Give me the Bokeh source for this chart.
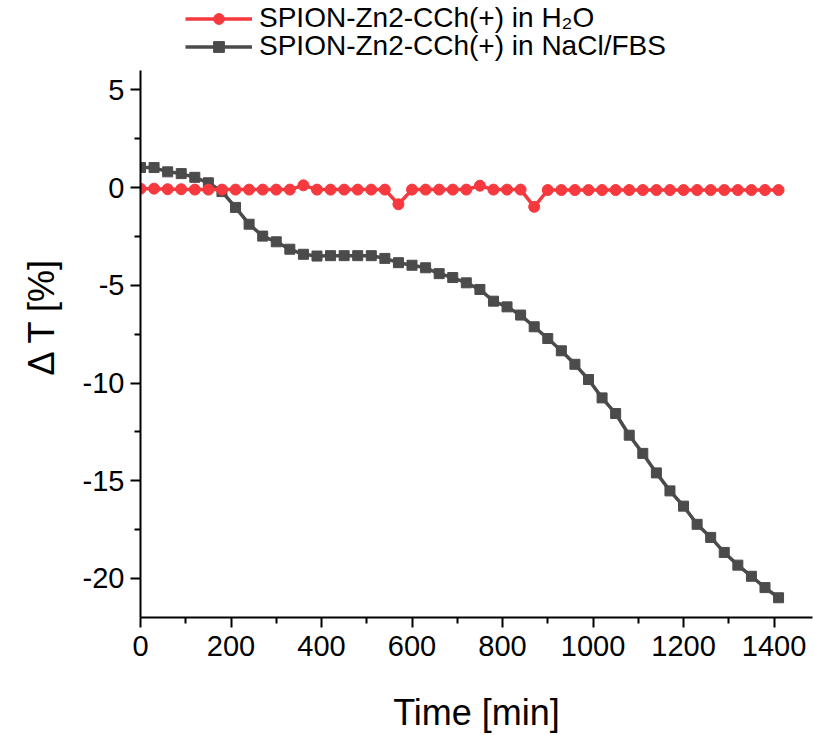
from bokeh.plotting import figure
from bokeh.models import Legend, LegendItem, Range1d, FixedTicker, PrintfTickFormatter, Title
from bokeh.embed import file_html
from bokeh.resources import INLINE

# ---- data ----
time_min = [0, 30, 60, 90, 120, 150, 180, 210, 240, 270, 300, 330, 360, 390, 420, 450,
            480, 510, 540, 570, 600, 630, 660, 690, 720, 750, 780, 810, 840, 870, 900, 930,
            960, 990, 1020, 1050, 1080, 1110, 1140, 1170, 1200, 1230, 1260, 1290, 1320, 1350,
            1380, 1410]

dT_h2o = [-0.05, -0.05, -0.08, -0.08, -0.1, -0.1, -0.1, -0.1, -0.1, -0.1, -0.1, -0.1,
          0.12, -0.1, -0.1, -0.1, -0.1, -0.1, -0.1, -0.85, -0.1, -0.1, -0.1, -0.1,
          -0.1, 0.1, -0.1, -0.1, -0.1, -0.98, -0.12, -0.12, -0.12, -0.12, -0.12, -0.12,
          -0.12, -0.12, -0.12, -0.12, -0.12, -0.12, -0.12, -0.12, -0.12, -0.12, -0.12, -0.12]

dT_nacl_fbs = [1.03, 1.03, 0.81, 0.72, 0.53, 0.25, -0.2, -1.01, -1.87, -2.48, -2.77, -3.15,
               -3.41, -3.5, -3.48, -3.48, -3.48, -3.48, -3.62, -3.84, -3.97, -4.1, -4.4, -4.6,
               -4.87, -5.21, -5.81, -6.1, -6.52, -7.12, -7.72, -8.35, -9.04, -9.82, -10.76,
               -11.56, -12.67, -13.6, -14.6, -15.52, -16.3, -17.23, -17.9, -18.67, -19.32,
               -19.89, -20.47, -20.99]

series_labels = ["SPION-Zn2-CCh(+) in H\u2082O", "SPION-Zn2-CCh(+) in NaCl/FBS"]
x_title = "Time [min]"
y_title = "\u0394 T [%]"

x_ticks = [0, 200, 400, 600, 800, 1000, 1200, 1400]
x_minor = [100, 300, 500, 700, 900, 1100, 1300]
y_ticks = [-20, -15, -10, -5, 0, 5]
y_minor = [-17.5, -12.5, -7.5, -2.5, 2.5]
y_axis_span = (-22, 6)

RED = "#F5393E"
GREY = "#4B4B4B"
FONT = "Liberation Sans"

# frame reaches the canvas top so the legend (drawn inside the frame) is not clipped;
# the y axis line itself is bounded to -22..6 as in the reference
p = figure(width=814, height=735, output_backend="svg", toolbar_location=None,
           x_range=Range1d(0, 1485), y_range=Range1d(-22, 9.58),
           min_border_left=140, min_border_right=2, min_border_top=0, min_border_bottom=118,
           x_axis_label=x_title)

p.xgrid.visible = False
p.ygrid.visible = False
p.outline_line_color = None
p.background_fill_color = "white"
p.border_fill_color = "white"

p.xaxis.ticker = FixedTicker(ticks=x_ticks, minor_ticks=x_minor)
p.yaxis.ticker = FixedTicker(ticks=y_ticks, minor_ticks=y_minor)
p.yaxis.bounds = y_axis_span
p.xaxis.formatter = PrintfTickFormatter(format="%d")
p.yaxis.formatter = PrintfTickFormatter(format="%d")

for ax in (p.xaxis, p.yaxis):
    ax.axis_line_width = 2
    ax.axis_line_color = "black"
    ax.major_tick_line_width = 2
    ax.minor_tick_line_width = 2
    ax.major_tick_line_color = "black"
    ax.minor_tick_line_color = "black"
    ax.major_tick_out = 10
    ax.major_tick_in = 0
    ax.minor_tick_out = 6
    ax.minor_tick_in = 0
    ax.major_label_text_font = FONT
    ax.major_label_text_font_size = "29px"
    ax.major_label_text_color = "black"
    ax.axis_label_text_font = FONT
    ax.axis_label_text_font_size = "36px"
    ax.axis_label_text_font_style = "normal"
    ax.axis_label_text_color = "black"

p.xaxis.major_label_standoff = 8
p.yaxis.major_label_standoff = 6
p.xaxis.axis_label_standoff = 33

# y-axis title, starting a little below the frame centre like in the reference
ytitle = Title(text=y_title, align="left", offset=242, standoff=35,
               text_font=FONT, text_font_size="36px", text_font_style="normal",
               text_color="black")
p.add_layout(ytitle, "left")

# NaCl/FBS series (drawn first, below)
r2_line = p.line(time_min, dT_nacl_fbs, line_color=GREY, line_width=3.5)
r2_pts = p.scatter(time_min, dT_nacl_fbs, marker="square", size=10,
                   fill_color=GREY, line_color=GREY)
# H2O series
r1_line = p.line(time_min, dT_h2o, line_color=RED, line_width=3.5)
r1_pts = p.scatter(time_min, dT_h2o, marker="circle", size=11,
                   fill_color=RED, line_color=RED)


def make_legend(label, renderers, loc):
    lg = Legend(items=[LegendItem(label=label, renderers=renderers)], location=loc)
    lg.border_line_color = None
    lg.background_fill_alpha = 0
    lg.padding = 0
    lg.margin = 0
    lg.spacing = 0
    lg.glyph_width = 67
    lg.glyph_height = 27
    lg.label_height = 27
    lg.label_standoff = 7
    lg.label_text_font = FONT
    lg.label_text_font_size = "28px"
    lg.label_text_color = "black"
    return lg


p.add_layout(make_legend(series_labels[0], [r1_line, r1_pts], (45, 583)), "center")
p.add_layout(make_legend(series_labels[1], [r2_line, r2_pts], (45, 555)), "center")

open("out.html", "w").write(file_html(p, INLINE))
